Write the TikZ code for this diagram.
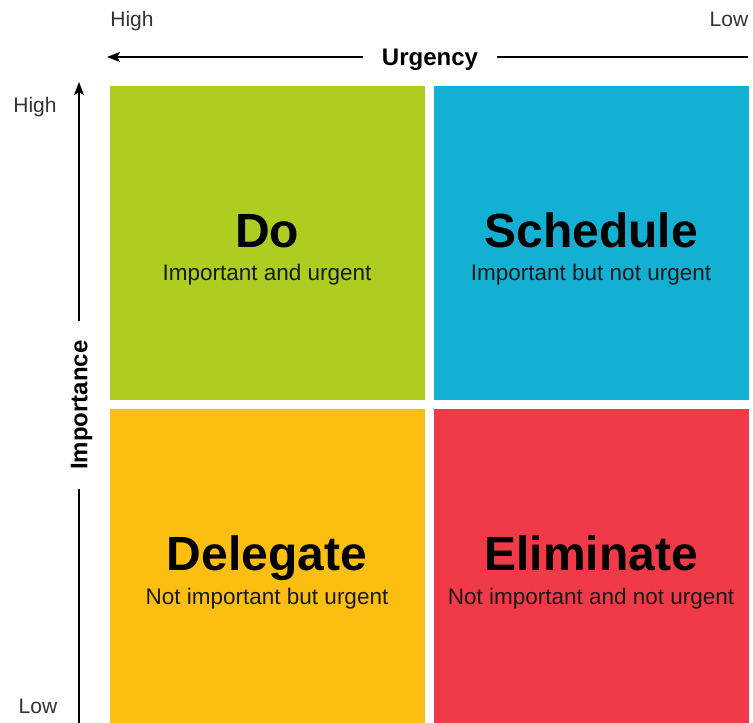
\documentclass[tikz,border=0pt]{standalone}
\usepackage{fontspec}
\setmainfont{Liberation Sans}
\usetikzlibrary{arrows.meta}

\definecolor{doGreen}{RGB}{173,206,32}
\definecolor{scheduleBlue}{RGB}{20,176,212}
\definecolor{delegateAmber}{RGB}{252,190,17}
\definecolor{eliminateRed}{RGB}{241,58,72}

\begin{document}
\begin{tikzpicture}[x=1pt,y=-1pt,
  quad/.style={draw=none, minimum width=315pt, minimum height=314pt, inner sep=0pt},
  title/.style={anchor=base, font=\fontsize{48}{56}\selectfont\bfseries, text=black},
  subtitle/.style={anchor=base, font=\fontsize{22.5}{27}\selectfont, text=black!90},
  scalelabel/.style={anchor=base, font=\fontsize{21}{25}\selectfont, text=black!80},
  axisname/.style={font=\fontsize{24}{28}\selectfont\bfseries, text=black, text depth=0pt, inner xsep=19pt, inner ysep=0pt},
  axisline/.style={line width=1.5pt, black},
  axisarrow/.style={axisline, -{Stealth[length=13pt, width=10pt, inset=3pt]}}
]
\useasboundingbox (0,0) rectangle (753,723);

% quadrants
\node[quad, fill=doGreen]       (do)  at (267.5,243) {};
\node[quad, fill=scheduleBlue]  (sch) at (591.5,243) {};
\node[quad, fill=delegateAmber] (del) at (267.5,566) {};
\node[quad, fill=eliminateRed]  (eli) at (591.5,566) {};

% quadrant titles
\node[title]    (doT)  at (267,247) {Do};
\node[subtitle] (doS)  at (267,280) {Important and urgent};
\node[title]    (schT) at (591,247) {Schedule};
\node[subtitle] (schS) at (591,280) {Important but not urgent};
\node[title]    (delT) at (267,570) {Delegate};
\node[subtitle] (delS) at (267,604) {Not important but urgent};
\node[title]    (eliT) at (591,570) {Eliminate};
\node[subtitle] (eliS) at (591,604) {Not important and not urgent};

% urgency axis
\node[axisname] (urg) at (430,57) {Urgency};
\coordinate (urgHigh) at (107,57);
\coordinate (urgLow)  at (748,57);
\draw[axisarrow] (urg.west) -- (urgHigh);
\draw[axisline]  (urg.east) -- (urgLow);
\node[scalelabel] (urgHighL) at (132,26) {High};
\node[scalelabel] (urgLowL)  at (729,26) {Low};

% importance axis
\node[axisname, rotate=90] (imp) at (79,405) {Importance};
\coordinate (impHigh) at (79,82);
\coordinate (impLow)  at (79,723);
\draw[axisarrow] (imp.east) -- (impHigh);
\draw[axisline]  (imp.west) -- (impLow);
\node[scalelabel] (impHighL) at (35,112) {High};
\node[scalelabel] (impLowL)  at (38,713) {Low};
\end{tikzpicture}
\end{document}
